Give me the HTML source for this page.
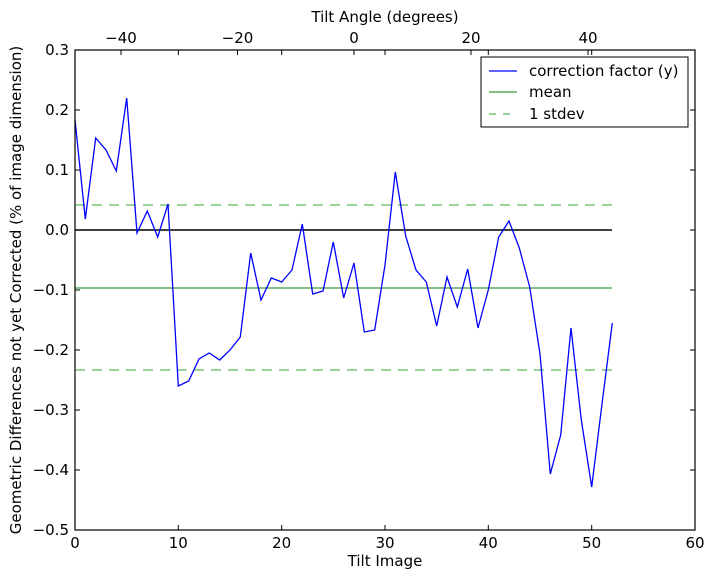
<!DOCTYPE html><html><head><style>body{margin:0;background:#fff}text{font-family:"DejaVu Sans","Liberation Sans",sans-serif;font-size:15px;fill:#000}</style></head><body>
<svg width="714" height="579" xmlns="http://www.w3.org/2000/svg">
<rect width="714" height="579" fill="#fff"/>
<line x1="75" y1="230" x2="612" y2="230" stroke="#000" stroke-width="1.5"/>
<line x1="75" y1="288" x2="612" y2="288" stroke="#3a9a3a" stroke-width="1.2"/>
<line x1="75" y1="205" x2="612" y2="205" stroke="#5cba5c" stroke-width="1.2" stroke-dasharray="10,7"/>
<line x1="75" y1="370" x2="612" y2="370" stroke="#5cba5c" stroke-width="1.2" stroke-dasharray="10,7"/>
<polyline fill="none" stroke="#0000ff" stroke-width="1.3" points="75,120 85.3,219 95.7,138 106,150 116.3,171 126.7,98 137,233 147.3,211 157.7,237 168,204 178.3,386 188.7,381 199,359 209.3,353 219.7,360 230,350 240.3,337 250.7,253 261,300 271.3,278 281.7,282 292,270 302.3,224 312.7,294 323,291 333.3,242 343.7,298 354,263 364.3,332 374.7,330 385,265 395.3,172 405.7,236 416,270 426.3,282 436.7,326 447,277 457.3,307 467.7,269 478,328 488.3,290 498.7,237 509,221 519.3,248 529.7,287 540,354 550.3,474 560.7,435 571,328 581.3,420 591.7,487 602,404 612.3,323"/>
<rect x="75" y="50" width="620" height="480" fill="none" stroke="#000" stroke-width="1.2"/>
<g stroke="#000" stroke-width="1">
<path d="M75,530v-5M178.3,530v-5M281.7,530v-5M385,530v-5M488.3,530v-5M591.7,530v-5M75,50v5M178.3,50v5M281.7,50v5M385,50v5M488.3,50v5M591.7,50v5"/>
<path d="M75,50h5M75,110h5M75,170h5M75,230h5M75,290h5M75,350h5M75,410h5M75,470h5M695,50h-5M695,110h-5M695,170h-5M695,230h-5M695,290h-5M695,350h-5M695,410h-5M695,470h-5"/>
<path d="M121,50v5M237.5,50v5M354,50v5M471,50v5M588,50v5"/>
</g>
<g text-anchor="middle">
<text x="75" y="548">0</text><text x="178.3" y="548">10</text><text x="281.7" y="548">20</text><text x="385" y="548">30</text><text x="488.3" y="548">40</text><text x="591.7" y="548">50</text><text x="695" y="548">60</text>
<text x="121" y="43">−40</text><text x="237.5" y="43">−20</text><text x="354" y="43">0</text><text x="471" y="43">20</text><text x="588" y="43">40</text>
<text x="385" y="566">Tilt Image</text><text x="385" y="22">Tilt Angle (degrees)</text>
<text transform="translate(21,290) rotate(-90)">Geometric Differences not yet Corrected (% of image dimension)</text>
</g>
<g text-anchor="end">
<text x="69" y="55">0.3</text><text x="69" y="115">0.2</text><text x="69" y="175">0.1</text><text x="69" y="235">0.0</text><text x="69" y="295">−0.1</text><text x="69" y="355">−0.2</text><text x="69" y="415">−0.3</text><text x="69" y="475">−0.4</text><text x="69" y="535">−0.5</text>
</g>
<rect x="481" y="57" width="207" height="70" fill="#fff" stroke="#000" stroke-width="1"/>
<line x1="489" y1="71" x2="517" y2="71" stroke="#0000ff" stroke-width="1.3"/>
<line x1="489" y1="92" x2="517" y2="92" stroke="#3a9a3a" stroke-width="1.2"/>
<line x1="489" y1="114" x2="517" y2="114" stroke="#5cba5c" stroke-width="1.2" stroke-dasharray="7,7"/>
<text x="529" y="76">correction factor (y)</text>
<text x="529" y="97">mean</text>
<text x="529" y="119">1 stdev</text>
</svg></body></html>
